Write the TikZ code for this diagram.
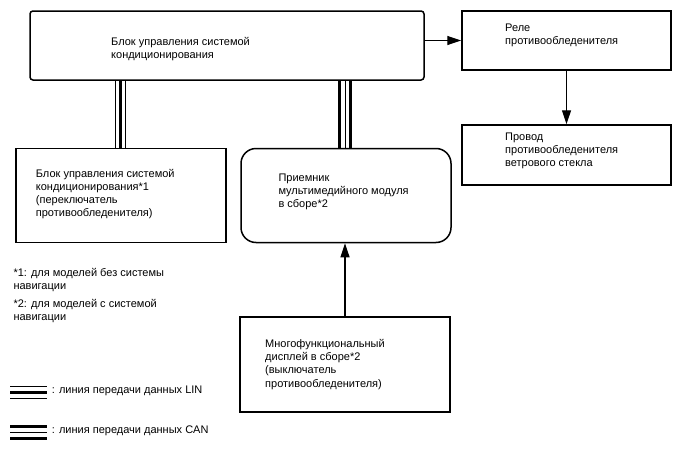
\documentclass[tikz,border=0pt]{standalone}
\usepackage{fontspec}
\setmainfont{Liberation Sans}
\usetikzlibrary{arrows.meta}
\begin{document}
\begin{tikzpicture}[x=1pt,y=-1pt,
  box/.style={draw, line width=1.5pt, rectangle, inner sep=0pt},
  lbl/.style={anchor=base west, inner sep=0pt, align=left, font=\fontsize{11}{13.2}\selectfont},
  arr/.style={line width=1.2pt, -{Triangle[length=14pt,width=9pt]}},
  thinl/.style={line width=0.7pt},
  thickl/.style={line width=3.4pt}]
\useasboundingbox (0,0) rectangle (688,463);
% boxes
\node[box, rounded corners=3pt, minimum width=394pt, minimum height=69pt] (ctrl) at (227,45.5) {};
\node[box, minimum width=209pt, minimum height=59pt] (relay) at (566.5,40.5) {};
\node[box, minimum width=209pt, minimum height=60pt] (wire) at (566.5,155) {};
\node[box, minimum width=210pt, minimum height=94pt] (left) at (121,195.5) {};
\node[box, rounded corners=15pt, minimum width=210pt, minimum height=94pt] (mid) at (346,195.5) {};
\node[box, minimum width=210pt, minimum height=95pt] (disp) at (345,364.5) {};
% texts (anchor = baseline of last line)
\node[lbl] (tctrl) at (111,58.7) {Блок управления системой\\кондиционирования};
\node[lbl] (trelay) at (505,44.7) {Реле\\противообледенителя};
\node[lbl] (twire) at (505,166.9) {Провод\\противообледенителя\\ветрового стекла};
\node[lbl] (tleft) at (35.7,216.6) {Блок управления системой\\кондиционирования*1\\(переключатель\\противообледенителя)};
\node[lbl] (tmid) at (278.3,207.4) {Приемник\\мультимедийного модуля\\в сборе*2};
\node[lbl] (tdisp) at (265,387.1) {Многофункциональный\\дисплей в сборе*2\\(выключатель\\противообледенителя)};
\node[lbl] (f1) at (13.3,289.2) {*1: для моделей без системы\\навигации};
\node[lbl] (f2) at (13.3,320.2) {*2: для моделей с системой\\навигации};
\node[lbl] (lin) at (51.7,393.5) {: линия передачи данных LIN};
\node[lbl] (can) at (51.7,433.5) {: линия передачи данных CAN};
% arrows
\draw[arr] (ctrl.east |- relay.west) -- (relay.west);
\draw[arr] (relay.south) -- (wire.north);
\draw[arr] (disp.north) -- (mid.south -| disp.north);
% LIN bus ctrl-left
\coordinate (a1) at (115,0);
\coordinate (a2) at (120.7,0);
\coordinate (a3) at (125.3,0);
\draw[thinl] (ctrl.south -| a1) -- (left.north -| a1);
\draw[thickl] (ctrl.south -| a2) -- (left.north -| a2);
\draw[thinl] (ctrl.south -| a3) -- (left.north -| a3);
% CAN bus ctrl-mid
\coordinate (b1) at (339.3,0);
\coordinate (b2) at (345,0);
\coordinate (b3) at (350.7,0);
\draw[thickl] (ctrl.south -| b1) -- (mid.north -| b1);
\draw[thinl] (ctrl.south -| b2) -- (mid.north -| b2);
\draw[thickl] (ctrl.south -| b3) -- (mid.north -| b3);
% legend
\draw[thinl] (10,386.7) -- (46.7,386.7);
\draw[thickl] (10,392.7) -- (46.7,392.7);
\draw[thinl] (10,398.3) -- (46.7,398.3);
\draw[thickl] (10,426.7) -- (46.7,426.7);
\draw[thinl] (10,432.3) -- (46.7,432.3);
\draw[thickl] (10,438.3) -- (46.7,438.3);
\end{tikzpicture}
\end{document}
